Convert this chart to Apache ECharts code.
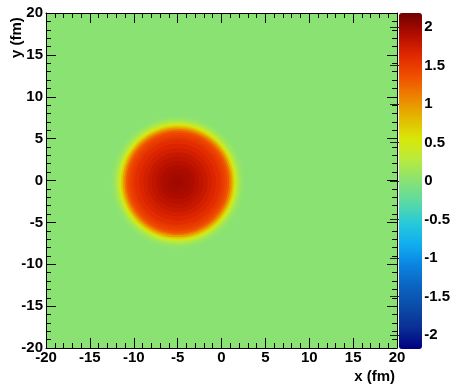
<!DOCTYPE html>
<html>
<head>
<meta charset="utf-8">
<script src="https://cdn.jsdelivr.net/npm/echarts@6/dist/echarts.min.js"></script>
<style>
    html, body { margin: 0; padding: 0; background: #fff; }
    #main { width: 453px; height: 385px; }
</style>
</head>
<body>
<div id="main"></div>
<script>
// radial profile of the hot spot (outer edge of each ring, fm)
var diskCenter = [-5, -0.2];
var profileRadius = [0.5, 1, 1.5, 2, 2.5, 3, 3.5, 4, 4.5, 5, 5.25, 5.5, 5.75, 6, 6.2, 6.4, 6.6, 6.8, 7, 7.2, 7.4, 7.6, 7.8, 33];
var profileValue = [1.97, 1.96, 1.94, 1.91, 1.87, 1.83, 1.78, 1.72, 1.66, 1.6, 1.53, 1.48, 1.42, 1.32, 1.15, 0.95, 0.72, 0.5, 0.33, 0.2, 0.12, 0.07, 0.03, 0.01, 0];

var zRange = [-2.18, 2.18];
var colorTicks = [-2, -1.5, -1, -0.5, 0, 0.5, 1, 1.5, 2];
var paletteColors = ['#000080', '#0a2e95', '#0a4ca8', '#0a64c0', '#0a84e0', '#10aef0', '#28cad8', '#5cdaa4',
    '#88e274', '#b8ea40', '#d8e808', '#e4b800', '#ec8400', '#f04e00', '#e02800', '#b00c00', '#700000'];

var FONT = 'Liberation Sans';

var chart = echarts.init(document.getElementById('main'));

// biggest ring first so smaller ones sit on top
var diskData = profileRadius.map(function (r, i) {
    return [diskCenter[0], diskCenter[1], r, profileValue[i]];
}).reverse();

function renderDisk(params, api) {
    var c = api.coord([api.value(0), api.value(1)]);
    var s = api.size([api.value(2), api.value(2)]);
    return {
        type: 'circle',
        shape: { cx: c[0], cy: c[1], r: (s[0] + s[1]) / 2 },
        style: { fill: api.visual('color') }
    };
}

function frameAxis(pos, grid, showLabel) {
    var ax = {
        gridIndex: grid,
        type: 'value',
        position: pos,
        min: -20,
        max: 20,
        interval: 5,
        z: 5,
        axisLine: { show: true, onZero: false, lineStyle: { color: '#000', width: 1 } },
        axisTick: { show: true, inside: true, length: 10, lineStyle: { color: '#000' } },
        minorTick: { show: true, splitNumber: 5, length: 5, lineStyle: { color: '#000' } },
        splitLine: { show: false },
        minorSplitLine: { show: false },
        axisLabel: {
            show: showLabel,
            color: '#000',
            fontFamily: FONT,
            fontWeight: 'bold',
            fontSize: 15,
            margin: (pos === 'bottom') ? 2 : 3
        }
    };
    return ax;
}

var option = {
    animation: false,
    backgroundColor: '#fff',
    grid: [
        { left: 46, right: 56, top: 13, bottom: 37 },
        { left: 399, top: 13, width: 23, height: 336 }
    ],
    xAxis: [
        frameAxis('bottom', 0, true),
        frameAxis('top', 0, false),
        { gridIndex: 1, type: 'value', show: false, min: 0, max: 1 }
    ],
    yAxis: [
        frameAxis('left', 0, true),
        frameAxis('right', 0, false),
        {
            gridIndex: 1,
            type: 'value',
            position: 'right',
            min: zRange[0],
            max: zRange[1],
            z: 10,
            axisLine: { show: false },
            splitLine: { show: false },
            axisTick: {
                show: true, inside: true, length: 9,
                customValues: colorTicks,
                lineStyle: { color: '#222' }
            },
            axisLabel: {
                customValues: colorTicks,
                color: '#000',
                fontFamily: FONT,
                fontWeight: 'bold',
                fontSize: 15,
                margin: 3
            }
        }
    ],
    visualMap: {
        type: 'continuous',
        min: zRange[0],
        max: zRange[1],
        dimension: 3,
        seriesIndex: 0,
        calculable: false,
        orient: 'vertical',
        left: 399,
        top: 13,
        padding: 0,
        itemWidth: 23,
        itemHeight: 336,
        inRange: { color: paletteColors }
    },
    graphic: [
        {
            type: 'text', x: 243, y: 95.5,
            style: { text: 'Y=0', font: '47px "Liberation Sans"', fill: '#000', align: 'left', verticalAlign: 'middle' }
        },
        {
            type: 'text', x: 395, y: 377,
            style: { text: 'x (fm)', font: 'bold 15px "Liberation Sans"', fill: '#000', align: 'right', verticalAlign: 'middle' }
        },
        {
            type: 'text', x: 17, y: 58, rotation: Math.PI / 2,
            style: { text: 'y (fm)', font: 'bold 15px "Liberation Sans"', fill: '#000', align: 'left', verticalAlign: 'middle' }
        }
    ],
    series: [{
        type: 'custom',
        xAxisIndex: 0,
        yAxisIndex: 0,
        clip: true,
        z: 1,
        renderItem: renderDisk,
        data: diskData
    }]
};
chart.setOption(option);
</script>
</body>
</html>
